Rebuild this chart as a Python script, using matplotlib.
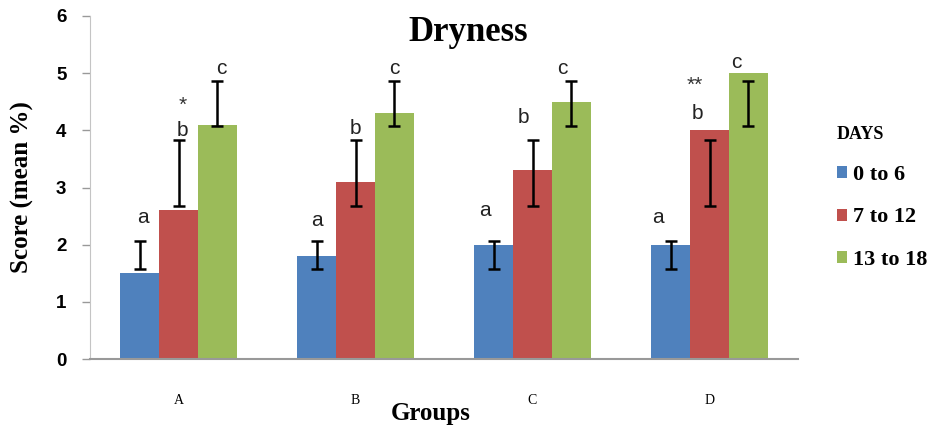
import matplotlib.pyplot as plt
import numpy as np

# data
groups = ["A", "B", "C", "D"]
series = ["0 to 6", "7 to 12", "13 to 18"]
colors = ["#4F81BD", "#C0504D", "#9BBB59"]

means = [
    [1.5, 1.8, 2.0, 2.0],   # 0 to 6
    [2.6, 3.1, 3.3, 4.0],   # 7 to 12
    [4.1, 4.3, 4.5, 5.0],   # 13 to 18
]
err_lo = [1.58, 2.68, 4.08]
err_hi = [2.06, 3.83, 4.86]

letters = ["a", "b", "c"]
letter_y = [
    [2.47, 2.43, 2.60, 2.47],
    [4.00, 4.04, 4.22, 4.30],
    [5.09, 5.09, 5.09, 5.18],
]
stars = {0: "*", 3: "**"}
star_y = {0: 4.44, 3: 4.79}
label_shift = [0.02, 0.0, -0.05, -0.07]

fig = plt.figure(figsize=(9.42, 4.29), dpi=100)
ax = fig.add_axes([90 / 942, 70 / 429, 708 / 942, 343 / 429])

x = np.arange(len(groups))
w = 0.22
handles = []
for k in range(3):
    xs = x + (k - 1) * w
    b = ax.bar(xs, means[k], width=w, color=colors[k], label=series[k], zorder=2)
    handles.append(b)
    mid = (err_lo[k] + err_hi[k]) / 2
    half = (err_hi[k] - err_lo[k]) / 2
    ax.errorbar(xs, [mid] * len(xs), yerr=half, fmt="none", ecolor="black",
                elinewidth=1.8, capsize=4.3, capthick=1.8, zorder=3)
    for i in range(len(groups)):
        ax.text(xs[i] + label_shift[i], letter_y[k][i], letters[k], ha="center", va="center",
                fontsize=15, color="#222222", family="Liberation Sans")
for i, s in stars.items():
    ax.text(x[i] + label_shift[i] * 1.2, star_y[i], s, ha="center", va="center",
            fontsize=15, color="#333333", family="Liberation Sans")

ax.set_xlim(-0.5, 3.5)
ax.set_ylim(0, 6)
ax.set_yticks(range(7))
ax.set_xticks(x)
ax.set_xticklabels(groups, family="Liberation Serif", fontsize=10)
for lab in ax.get_yticklabels():
    lab.set_family("Liberation Sans")
    lab.set_fontweight("bold")
    lab.set_fontsize(13.5)
ax.tick_params(axis="y", length=6, color="#999999", width=1, pad=11)
ax.tick_params(axis="x", length=0, pad=25)
for s in ["top", "right"]:
    ax.spines[s].set_visible(False)
ax.spines["left"].set_color("#c4c4c4")
ax.spines["bottom"].set_color("#999999")
ax.spines["bottom"].set_linewidth(1.5)

fig.text(468 / 942, (429 - 41) / 429, "Dryness", ha="center", va="baseline",
         fontsize=25, fontweight="bold", family="Liberation Serif")
fig.text(431 / 942, 9 / 429, "Groups", ha="center", va="baseline",
         fontsize=18, fontweight="bold", family="Liberation Serif")
fig.text(22 / 942, (429 - 187) / 429, "Score (mean %)", ha="center", va="center",
         rotation=90, fontsize=18, fontweight="bold", family="Liberation Serif")

leg = ax.legend(handles=handles, labels=series, title="DAYS", loc="upper left",
                bbox_to_anchor=(837 / 942, (429 - 126) / 429), bbox_transform=fig.transFigure,
                frameon=False, borderpad=0, borderaxespad=0, handlelength=0.45,
                handleheight=0.45, handletextpad=0.25, labelspacing=1.0,
                alignment="left", prop={"family": "Liberation Serif", "weight": "bold", "size": 16},
                title_fontproperties={"family": "Liberation Serif", "weight": "bold", "size": 13})

fig.savefig("out.png", dpi=100)
